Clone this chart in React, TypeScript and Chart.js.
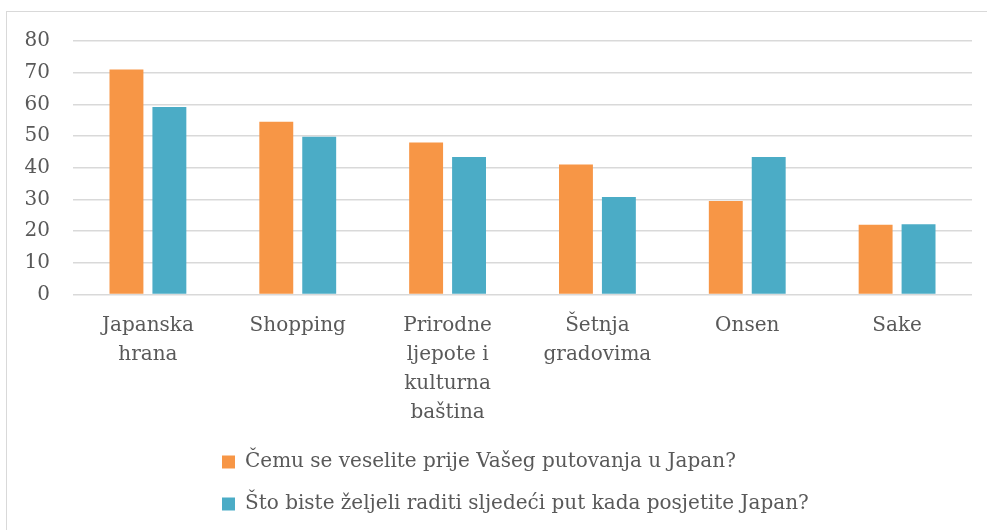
import React, { useEffect, useRef } from 'react';
import { Chart, registerables } from 'chart.js';

Chart.register(...registerables);

const categories: string[][] = [
  ['Japanska', 'hrana'],
  ['Shopping'],
  ['Prirodne', 'ljepote i', 'kulturna', 'baština'],
  ['Šetnja', 'gradovima'],
  ['Onsen'],
  ['Sake'],
];
const seriesNames = [
  'Čemu se veselite prije Vašeg putovanja u Japan?',
  'Što biste željeli raditi sljedeći put kada posjetite Japan?',
];
const beforeTrip = [71, 54.5, 48, 41, 29.5, 22];
const nextVisit = [59.2, 49.8, 43.4, 30.8, 43.4, 22.2];
const yMin = 0;
const yMax = 80;
const yStep = 10;

const FONT = "'DejaVu Serif', serif";
const TEXT = '#595959';
const GRID = '#d9d9d9';
const LEGEND_START_X = 214;

const legendShift = {
  id: 'legendShift',
  beforeDraw(chart: any) {
    const lg = chart.legend;
    if (lg) {
      const pad = lg.options.labels.padding;
      lg.left = LEGEND_START_X - pad;
    }
  },
};

export default function App() {
  const ref = useRef<HTMLCanvasElement>(null);
  useEffect(() => {
    if (!ref.current) return;
    const chart = new Chart(ref.current, {
      type: 'bar',
      data: {
        labels: categories,
        datasets: [
          { label: seriesNames[0], data: beforeTrip, backgroundColor: '#F79646' },
          { label: seriesNames[1], data: nextVisit, backgroundColor: '#4BACC6' },
        ],
      },
      options: {
        animation: false,
        responsive: false,
        maintainAspectRatio: false,
        datasets: { bar: { categoryPercentage: 0.573, barPercentage: 0.79 } },
        layout: { padding: { top: 28, right: 15, bottom: 6, left: 0 } },
        scales: {
          x: {
            afterFit: (s: any) => {
              s.height = 135.5;
            },
            grid: { display: false },
            border: { display: false },
            ticks: {
              color: TEXT,
              font: { family: FONT, size: 20, lineHeight: 1.45 },
              padding: 9,
              maxRotation: 0,
              autoSkip: false,
            },
          },
          y: {
            min: yMin,
            max: yMax,
            afterFit: (s: any) => {
              s.width = 65;
              s.paddingTop = 0;
              s.paddingBottom = 0;
            },
            grid: { color: GRID, lineWidth: 1.4, drawTicks: false },
            border: { display: false },
            ticks: {
              stepSize: yStep,
              color: TEXT,
              padding: 23,
              font: { family: FONT, size: 20 },
            },
          },
        },
        plugins: {
          tooltip: { enabled: false },
          legend: {
            position: 'bottom',
            align: 'start',
            labels: {
              color: TEXT,
              boxWidth: 13,
              boxHeight: 13,
              padding: 22,
              font: { family: FONT, size: 20 },
            },
          },
        },
      } as any,
      plugins: [legendShift],
    });
    return () => chart.destroy();
  }, []);

  return (
    <div style={{ position: 'fixed', left: 0, top: 0, width: '100vw', height: '100vh', overflow: 'hidden', background: '#fff' }}>
      <div style={{ position: 'absolute', left: 6, top: 11, width: 1000, height: 600, border: `1px solid ${GRID}`, background: '#fff' }}>
        <canvas ref={ref} width={979} height={517} style={{ position: 'absolute', left: 1, top: 1, width: 979, height: 517 }} />
      </div>
    </div>
  );
}
